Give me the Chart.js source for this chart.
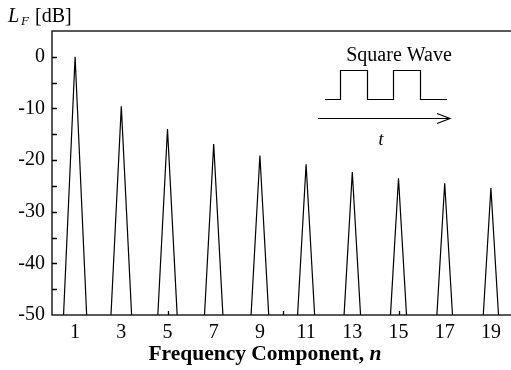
<!DOCTYPE html>
<html>
<head>
<meta charset="utf-8">
<script src="https://cdn.jsdelivr.net/npm/chart.js@4"></script>
<style>
  body { margin: 0; overflow: hidden; background: #fff; }
  #wrap { width: 515px; height: 370px; position: relative; }
</style>
</head>
<body>
<div id="wrap"><canvas id="myChart"></canvas></div>
<script>
// 1. DATA
const harmonics = [1, 3, 5, 7, 9, 11, 13, 15, 17, 19];
const levels = [0, -9.6, -14.0, -16.9, -19.1, -20.8, -22.3, -23.5, -24.5, -25.4];
// even components sit far below the axis floor, so only the peaks show
const gaps = [0, 2, 4, 6, 8, 10, 12, 14, 16, 18, 20];
const gapLevel = -100;

const xTickLabels = [1, 3, 5, 7, 9, 11, 13, 15, 17, 19];
const xMinorTicks = [5, 10, 15];
const yTickLabels = [0, -10, -20, -30, -40, -50];
const yMinorTicks = [-45, -40, -35, -30, -25, -20, -15, -10, -5, 0];

// build the line: gap, peak, gap, peak ...
const points = [];
gaps.forEach((n, i) => {
    points.push({ x: n, y: gapLevel });
    if (i < harmonics.length) points.push({ x: harmonics[i], y: levels[i] });
});

const serif = '"Liberation Serif", "Times New Roman", serif';

// 2. FRAME, INWARD TICKS, LABELS AND INSET
const decorations = {
    id: 'decorations',
    afterDraw(chart) {
        const ctx = chart.ctx;
        const area = chart.chartArea;
        const xs = chart.scales.x;
        const ys = chart.scales.y;
        ctx.save();
        ctx.strokeStyle = '#000';
        ctx.fillStyle = '#000';
        ctx.lineWidth = 1.3;

        // frame
        ctx.strokeRect(area.left, area.top, area.right - area.left, area.bottom - area.top);

        // inward ticks
        ctx.beginPath();
        yMinorTicks.forEach(v => {
            const py = Math.round(ys.getPixelForValue(v)) + 0.5;
            ctx.moveTo(area.left, py);
            ctx.lineTo(area.left + 5, py);
        });
        xMinorTicks.forEach(v => {
            const px = Math.round(xs.getPixelForValue(v)) + 0.5;
            ctx.moveTo(px, area.bottom);
            ctx.lineTo(px, area.bottom - 4);
        });
        ctx.stroke();

        // y axis label  L_F [dB]
        ctx.textBaseline = 'alphabetic';
        ctx.textAlign = 'left';
        ctx.font = 'italic 20px ' + serif;
        ctx.fillText('L', 8, 22);
        ctx.font = 'italic 13px ' + serif;
        ctx.fillText('F', 21, 25);
        ctx.font = '20px ' + serif;
        ctx.fillText('[dB]', 35, 22);

        // x axis title, bold with italic n
        const part1 = 'Frequency Component, ';
        const part2 = 'n';
        ctx.font = 'bold 21.5px ' + serif;
        const w1 = ctx.measureText(part1).width;
        ctx.font = 'bold italic 21.5px ' + serif;
        const w2 = ctx.measureText(part2).width;
        const startX = 265 - (w1 + w2) / 2;
        ctx.font = 'bold 21.5px ' + serif;
        ctx.fillText(part1, startX, 360);
        ctx.font = 'bold italic 21.5px ' + serif;
        ctx.fillText(part2, startX + w1, 360);

        // inset: square wave sketch
        ctx.font = '20px ' + serif;
        ctx.textAlign = 'center';
        ctx.fillText('Square Wave', 399, 61);
        ctx.lineWidth = 1.2;
        ctx.beginPath();
        ctx.moveTo(325, 99.5);
        ctx.lineTo(340.5, 99.5);
        ctx.lineTo(340.5, 70.5);
        ctx.lineTo(367.5, 70.5);
        ctx.lineTo(367.5, 99.5);
        ctx.lineTo(393.5, 99.5);
        ctx.lineTo(393.5, 70.5);
        ctx.lineTo(420.5, 70.5);
        ctx.lineTo(420.5, 99.5);
        ctx.lineTo(447, 99.5);
        ctx.stroke();
        // time arrow
        ctx.beginPath();
        ctx.moveTo(318, 118.5);
        ctx.lineTo(450, 118.5);
        ctx.moveTo(437, 113.5);
        ctx.lineTo(450, 118.5);
        ctx.lineTo(437, 123.5);
        ctx.stroke();
        ctx.font = 'italic 18px ' + serif;
        ctx.fillText('t', 381, 145);
        ctx.restore();
    }
};

// 3. CHART
const ctx = document.getElementById('myChart').getContext('2d');
new Chart(ctx, {
    type: 'line',
    data: {
        datasets: [{
            data: points,
            borderColor: '#000',
            borderWidth: 1.2,
            pointRadius: 0,
            tension: 0,
            fill: false
        }]
    },
    options: {
        responsive: true,
        maintainAspectRatio: false,
        animation: false,
        events: [],
        layout: { padding: { top: 31, right: 1, bottom: 0, left: 0 } },
        plugins: { legend: { display: false }, tooltip: { enabled: false } },
        scales: {
            x: {
                type: 'linear',
                min: 0,
                max: 20,
                grid: { display: false, drawTicks: false },
                border: { display: false },
                afterBuildTicks: (scale) => { scale.ticks = xTickLabels.map(v => ({ value: v })); },
                afterFit: (scale) => { scale.height = 55; },
                ticks: {
                    autoSkip: false,
                    maxRotation: 0,
                    padding: 6,
                    color: '#000',
                    font: { family: serif, size: 20 }
                }
            },
            y: {
                min: -50,
                max: 5,
                grid: { display: false, drawTicks: false },
                border: { display: false },
                afterBuildTicks: (scale) => { scale.ticks = yTickLabels.map(v => ({ value: v })); },
                afterFit: (scale) => { scale.width = 52; },
                ticks: {
                    padding: 7,
                    color: '#000',
                    font: { family: serif, size: 20 }
                }
            }
        }
    },
    plugins: [decorations]
});
</script>
</body>
</html>
